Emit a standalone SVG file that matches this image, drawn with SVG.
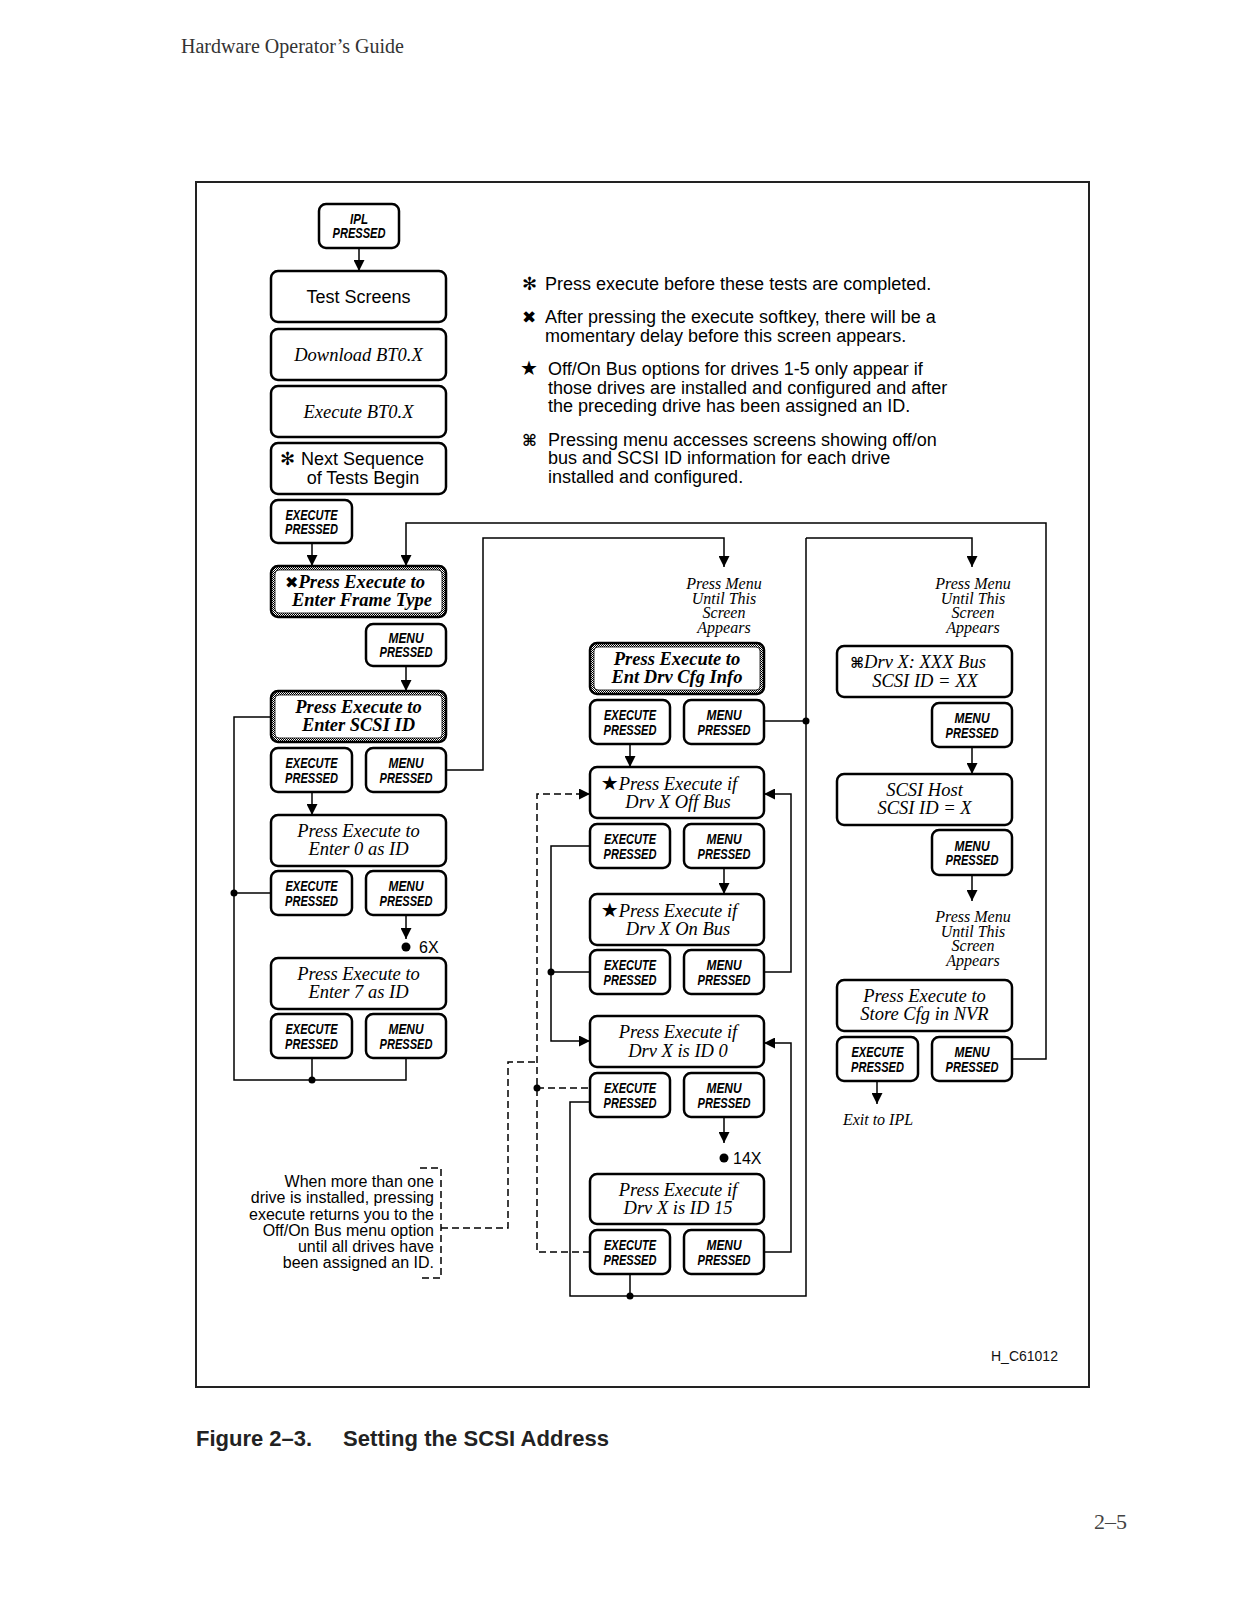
<svg xmlns="http://www.w3.org/2000/svg" width="1237" height="1600" viewBox="0 0 1237 1600">
<style>
.box{fill:#fff;stroke:#000;stroke-width:2.5}
.dbox{fill:url(#chk);stroke:#000;stroke-width:2.5}
.dinner{fill:#fff;stroke:#000;stroke-width:0.8}
.ln{fill:none;stroke:#000;stroke-width:1.5}
.dash{fill:none;stroke:#000;stroke-width:1.5;stroke-dasharray:7 4}
.dot{fill:#000}
.btn{font-family:"Liberation Sans",Arial,sans-serif;font-style:italic;font-weight:bold;font-size:15.5px;text-anchor:middle;fill:#000}
.sans{font-family:"Liberation Sans",Arial,sans-serif;font-size:18px;fill:#000}
.ser{font-family:"Liberation Serif","Times New Roman",serif;font-style:italic;font-size:18.5px;text-anchor:middle;fill:#000}
.serb{font-family:"Liberation Serif","Times New Roman",serif;font-style:italic;font-weight:bold;font-size:18.5px;text-anchor:middle;fill:#000}
.lab{font-family:"Liberation Serif","Times New Roman",serif;font-style:italic;font-size:16px;text-anchor:middle;fill:#000}
.note{font-family:"Liberation Sans",Arial,sans-serif;font-size:18px;fill:#000}
.note2{font-family:"Liberation Sans",Arial,sans-serif;font-size:16px;text-anchor:end;fill:#000}
.sym{font-family:"DejaVu Sans",sans-serif;font-style:normal;font-weight:bold}
</style>
<defs>
<pattern id="chk" width="2" height="2" patternUnits="userSpaceOnUse">
<rect width="2" height="2" fill="#fff"/><rect width="1" height="1" fill="#000"/><rect x="1" y="1" width="1" height="1" fill="#000"/>
</pattern>
<marker id="ar" viewBox="0 0 10 10" refX="10" refY="5" markerWidth="11" markerHeight="11" markerUnits="userSpaceOnUse" orient="auto">
<path d="M0,0 L10,5 L0,10 z" fill="#000"/>
</marker>
</defs>
<rect width="1237" height="1600" fill="#fff"/>

<text x="181" y="53" font-family="Liberation Serif, Times New Roman, serif" font-size="20" fill="#333">Hardware Operator’s Guide</text>
<rect x="196" y="182" width="893" height="1205" fill="none" stroke="#222" stroke-width="2"/>

<!-- Notes -->
<g id="notes">
<text class="note" x="522" y="289.5"><tspan class="sym" font-size="18">✻</tspan><tspan x="545">Press execute before these tests are completed.</tspan></text>
<text class="note" x="522" y="322.5"><tspan class="sym" font-size="17">✖</tspan><tspan x="545">After pressing the execute softkey, there will be a</tspan></text>
<text class="note" x="545" y="341.5">momentary delay before this screen appears.</text>
<text class="note" x="520" y="374.5"><tspan class="sym" font-size="20">★</tspan><tspan x="548">Off/On Bus options for drives 1-5 only appear if</tspan></text>
<text class="note" x="548" y="393.5">those drives are installed and configured and after</text>
<text class="note" x="548" y="411.5">the preceding drive has been assigned an ID.</text>
<text class="note" x="522" y="445.5"><tspan class="sym" font-size="16">⌘</tspan><tspan x="548">Pressing menu accesses screens showing off/on</tspan></text>
<text class="note" x="548" y="463.5">bus and SCSI ID information for each drive</text>
<text class="note" x="548" y="482.5">installed and configured.</text>
</g>

<!-- Connectors -->
<g id="connectors">
<path class="ln" d="M359 248 V271" marker-end="url(#ar)"/>
<path class="ln" d="M312 543 V566" marker-end="url(#ar)"/>
<path class="ln" d="M1012 1059 H1046 V523 H406 V566" marker-end="url(#ar)"/>
<path class="ln" d="M406 666 V691" marker-end="url(#ar)"/>
<path class="ln" d="M312 792 V815" marker-end="url(#ar)"/>
<path class="ln" d="M446 770 H483 V538 H724 V567" marker-end="url(#ar)"/>
<path class="ln" d="M406 915 V939" marker-end="url(#ar)"/>
<path class="ln" d="M271 717 H234 V1080 H406 V1058"/>
<path class="ln" d="M312 1058 V1080"/>
<path class="ln" d="M234 893 H271"/>
<path class="ln" d="M764 721 H806"/>
<path class="ln" d="M806 538 V1296 H570 V1102 H590"/>
<path class="ln" d="M806 538 H972 V567" marker-end="url(#ar)"/>
<path class="ln" d="M630 744 V767" marker-end="url(#ar)"/>
<path class="ln" d="M590 846 H551 V1041 H590" marker-end="url(#ar)"/>
<path class="ln" d="M551 972 H590"/>
<path class="ln" d="M724 868 V894" marker-end="url(#ar)"/>
<path class="ln" d="M764 972 H791 V794 H764" marker-end="url(#ar)"/>
<path class="ln" d="M724 1117 V1143" marker-end="url(#ar)"/>
<path class="ln" d="M764 1252 H791 V1043 H764" marker-end="url(#ar)"/>
<path class="ln" d="M630 1274 V1296"/>
<path class="dash" d="M590 1252 H537 V794 H590" marker-end="url(#ar)"/>
<path class="dash" d="M537 1088 H590"/>
<path class="dash" d="M441 1228 H508 V1062 H537"/>
<path class="dash" d="M420 1168 H441 V1278 H420"/>
<path class="ln" d="M972 747 V774" marker-end="url(#ar)"/>
<path class="ln" d="M972 875 V901" marker-end="url(#ar)"/>
<path class="ln" d="M877 1081 V1104" marker-end="url(#ar)"/>
<circle class="dot" cx="234" cy="893" r="3.5"/>
<circle class="dot" cx="312" cy="1080" r="3.5"/>
<circle class="dot" cx="406" cy="947" r="4.5"/>
<circle class="dot" cx="806" cy="721" r="3.5"/>
<circle class="dot" cx="551" cy="972" r="3.5"/>
<circle class="dot" cx="537" cy="1088" r="3.5"/>
<circle class="dot" cx="630" cy="1296" r="3.5"/>
<circle class="dot" cx="724" cy="1158" r="4.5"/>
<text x="419" y="953" font-family="Liberation Sans, Arial, sans-serif" font-size="16">6X</text>
<text x="733" y="1164" font-family="Liberation Sans, Arial, sans-serif" font-size="16">14X</text>
</g>

<!-- Left column -->
<g id="ipl"><rect class="box" x="319" y="204" width="80" height="44" rx="7"/>
<text class="btn" x="359" y="223.5" textLength="18" lengthAdjust="spacingAndGlyphs">IPL</text>
<text class="btn" x="359" y="238" textLength="53" lengthAdjust="spacingAndGlyphs">PRESSED</text></g>

<g id="test-screens"><rect class="box" x="271" y="271" width="175" height="51" rx="7"/>
<text class="sans" x="358.5" y="303" text-anchor="middle">Test Screens</text></g>

<g id="download"><rect class="box" x="271" y="329" width="175" height="51" rx="7"/>
<text class="ser" x="358.5" y="361" font-size="19.5">Download BT0.X</text></g>

<g id="execute-bt0"><rect class="box" x="271" y="386" width="175" height="51" rx="7"/>
<text class="ser" x="358.5" y="418" font-size="19.5">Execute BT0.X</text></g>

<g id="next-seq"><rect class="box" x="271" y="443" width="175" height="51" rx="7"/>
<text class="sans" x="280" y="464.5"><tspan class="sym" font-size="18">✻</tspan><tspan x="301">Next Sequence</tspan></text>
<text class="sans" x="363" y="483.5" text-anchor="middle">of Tests Begin</text></g>

<g id="exec1"><rect class="box" x="271" y="500" width="81" height="43" rx="7"/>
<text class="btn" x="311.5" y="519.5" textLength="52" lengthAdjust="spacingAndGlyphs">EXECUTE</text>
<text class="btn" x="311.5" y="534" textLength="53" lengthAdjust="spacingAndGlyphs">PRESSED</text></g>

<g id="frame-type"><rect class="dbox" x="271" y="566" width="175" height="51" rx="7"/>
<rect class="dinner" x="275" y="570" width="167" height="43" rx="4"/>
<text class="serb" x="355" y="587.5"><tspan class="sym" font-size="16">✖</tspan>Press Execute to</text>
<text class="serb" x="362" y="606">Enter Frame Type</text></g>

<g id="menu-frame"><rect class="box" x="366" y="624" width="80" height="42" rx="7"/>
<text class="btn" x="406" y="642.5" textLength="35" lengthAdjust="spacingAndGlyphs">MENU</text>
<text class="btn" x="406" y="657" textLength="53" lengthAdjust="spacingAndGlyphs">PRESSED</text></g>

<g id="scsi-id"><rect class="dbox" x="271" y="691" width="175" height="51" rx="7"/>
<rect class="dinner" x="275" y="695" width="167" height="43" rx="4"/>
<text class="serb" x="358.5" y="712.5">Press Execute to</text>
<text class="serb" x="358.5" y="731">Enter SCSI ID</text></g>

<g id="exec-scsi"><rect class="box" x="271" y="748" width="81" height="44" rx="7"/>
<text class="btn" x="311.5" y="768" textLength="52" lengthAdjust="spacingAndGlyphs">EXECUTE</text>
<text class="btn" x="311.5" y="782.5" textLength="53" lengthAdjust="spacingAndGlyphs">PRESSED</text></g>
<g id="menu-scsi"><rect class="box" x="366" y="748" width="80" height="44" rx="7"/>
<text class="btn" x="406" y="768" textLength="35" lengthAdjust="spacingAndGlyphs">MENU</text>
<text class="btn" x="406" y="782.5" textLength="53" lengthAdjust="spacingAndGlyphs">PRESSED</text></g>

<g id="enter0"><rect class="box" x="271" y="815" width="175" height="51" rx="7"/>
<text class="ser" x="358.5" y="836.5">Press Execute to</text>
<text class="ser" x="358.5" y="855">Enter 0 as ID</text></g>

<g id="exec-0"><rect class="box" x="271" y="871" width="81" height="44" rx="7"/>
<text class="btn" x="311.5" y="891" textLength="52" lengthAdjust="spacingAndGlyphs">EXECUTE</text>
<text class="btn" x="311.5" y="905.5" textLength="53" lengthAdjust="spacingAndGlyphs">PRESSED</text></g>
<g id="menu-0"><rect class="box" x="366" y="871" width="80" height="44" rx="7"/>
<text class="btn" x="406" y="891" textLength="35" lengthAdjust="spacingAndGlyphs">MENU</text>
<text class="btn" x="406" y="905.5" textLength="53" lengthAdjust="spacingAndGlyphs">PRESSED</text></g>

<g id="enter7"><rect class="box" x="271" y="958" width="175" height="51" rx="7"/>
<text class="ser" x="358.5" y="979.5">Press Execute to</text>
<text class="ser" x="358.5" y="998">Enter 7 as ID</text></g>

<g id="exec-7"><rect class="box" x="271" y="1014" width="81" height="44" rx="7"/>
<text class="btn" x="311.5" y="1034" textLength="52" lengthAdjust="spacingAndGlyphs">EXECUTE</text>
<text class="btn" x="311.5" y="1048.5" textLength="53" lengthAdjust="spacingAndGlyphs">PRESSED</text></g>
<g id="menu-7"><rect class="box" x="366" y="1014" width="80" height="44" rx="7"/>
<text class="btn" x="406" y="1034" textLength="35" lengthAdjust="spacingAndGlyphs">MENU</text>
<text class="btn" x="406" y="1048.5" textLength="53" lengthAdjust="spacingAndGlyphs">PRESSED</text></g>

<!-- Middle column -->
<g id="label-mid"><text class="lab" x="724" y="589">Press Menu</text>
<text class="lab" x="724" y="603.5">Until This</text>
<text class="lab" x="724" y="618">Screen</text>
<text class="lab" x="724" y="632.5">Appears</text></g>

<g id="cfg-info"><rect class="dbox" x="590" y="643" width="174" height="51" rx="7"/>
<rect class="dinner" x="594" y="647" width="166" height="43" rx="4"/>
<text class="serb" x="677" y="664.5">Press Execute to</text>
<text class="serb" x="677" y="683">Ent Drv Cfg Info</text></g>

<g id="exec-cfg"><rect class="box" x="590" y="700" width="80" height="44" rx="7"/>
<text class="btn" x="630" y="720" textLength="52" lengthAdjust="spacingAndGlyphs">EXECUTE</text>
<text class="btn" x="630" y="734.5" textLength="53" lengthAdjust="spacingAndGlyphs">PRESSED</text></g>
<g id="menu-cfg"><rect class="box" x="684" y="700" width="80" height="44" rx="7"/>
<text class="btn" x="724" y="720" textLength="35" lengthAdjust="spacingAndGlyphs">MENU</text>
<text class="btn" x="724" y="734.5" textLength="53" lengthAdjust="spacingAndGlyphs">PRESSED</text></g>

<g id="off-bus"><rect class="box" x="590" y="767" width="174" height="51" rx="7"/>
<text class="ser" x="669" y="790"><tspan class="sym" font-size="20">★</tspan>Press Execute if</text>
<text class="ser" x="678" y="808">Drv X Off Bus</text></g>

<g id="exec-off"><rect class="box" x="590" y="824" width="80" height="44" rx="7"/>
<text class="btn" x="630" y="844" textLength="52" lengthAdjust="spacingAndGlyphs">EXECUTE</text>
<text class="btn" x="630" y="858.5" textLength="53" lengthAdjust="spacingAndGlyphs">PRESSED</text></g>
<g id="menu-off"><rect class="box" x="684" y="824" width="80" height="44" rx="7"/>
<text class="btn" x="724" y="844" textLength="35" lengthAdjust="spacingAndGlyphs">MENU</text>
<text class="btn" x="724" y="858.5" textLength="53" lengthAdjust="spacingAndGlyphs">PRESSED</text></g>

<g id="on-bus"><rect class="box" x="590" y="894" width="174" height="51" rx="7"/>
<text class="ser" x="669" y="917"><tspan class="sym" font-size="20">★</tspan>Press Execute if</text>
<text class="ser" x="678" y="935">Drv X On Bus</text></g>

<g id="exec-on"><rect class="box" x="590" y="950" width="80" height="44" rx="7"/>
<text class="btn" x="630" y="970" textLength="52" lengthAdjust="spacingAndGlyphs">EXECUTE</text>
<text class="btn" x="630" y="984.5" textLength="53" lengthAdjust="spacingAndGlyphs">PRESSED</text></g>
<g id="menu-on"><rect class="box" x="684" y="950" width="80" height="44" rx="7"/>
<text class="btn" x="724" y="970" textLength="35" lengthAdjust="spacingAndGlyphs">MENU</text>
<text class="btn" x="724" y="984.5" textLength="53" lengthAdjust="spacingAndGlyphs">PRESSED</text></g>

<g id="id0"><rect class="box" x="590" y="1016" width="174" height="51" rx="7"/>
<text class="ser" x="678" y="1038">Press Execute if</text>
<text class="ser" x="678" y="1056.5">Drv X is ID 0</text></g>

<g id="exec-id0"><rect class="box" x="590" y="1073" width="80" height="44" rx="7"/>
<text class="btn" x="630" y="1093" textLength="52" lengthAdjust="spacingAndGlyphs">EXECUTE</text>
<text class="btn" x="630" y="1107.5" textLength="53" lengthAdjust="spacingAndGlyphs">PRESSED</text></g>
<g id="menu-id0"><rect class="box" x="684" y="1073" width="80" height="44" rx="7"/>
<text class="btn" x="724" y="1093" textLength="35" lengthAdjust="spacingAndGlyphs">MENU</text>
<text class="btn" x="724" y="1107.5" textLength="53" lengthAdjust="spacingAndGlyphs">PRESSED</text></g>

<g id="id15"><rect class="box" x="590" y="1174" width="174" height="50" rx="7"/>
<text class="ser" x="678" y="1195.5">Press Execute if</text>
<text class="ser" x="678" y="1214">Drv X is ID 15</text></g>

<g id="exec-id15"><rect class="box" x="590" y="1230" width="80" height="44" rx="7"/>
<text class="btn" x="630" y="1250" textLength="52" lengthAdjust="spacingAndGlyphs">EXECUTE</text>
<text class="btn" x="630" y="1264.5" textLength="53" lengthAdjust="spacingAndGlyphs">PRESSED</text></g>
<g id="menu-id15"><rect class="box" x="684" y="1230" width="80" height="44" rx="7"/>
<text class="btn" x="724" y="1250" textLength="35" lengthAdjust="spacingAndGlyphs">MENU</text>
<text class="btn" x="724" y="1264.5" textLength="53" lengthAdjust="spacingAndGlyphs">PRESSED</text></g>

<g id="note-multi">
<text class="note2" x="434" y="1187">When more than one</text>
<text class="note2" x="434" y="1203">drive is installed, pressing</text>
<text class="note2" x="434" y="1220">execute returns you to the</text>
<text class="note2" x="434" y="1236">Off/On Bus menu option</text>
<text class="note2" x="434" y="1252">until all drives have</text>
<text class="note2" x="434" y="1268">been assigned an ID.</text>
</g>

<!-- Right column -->
<g id="label-right1"><text class="lab" x="973" y="589">Press Menu</text>
<text class="lab" x="973" y="603.5">Until This</text>
<text class="lab" x="973" y="618">Screen</text>
<text class="lab" x="973" y="632.5">Appears</text></g>

<g id="drv-bus"><rect class="box" x="837" y="646" width="175" height="51" rx="7"/>
<text class="ser" x="918" y="668"><tspan class="sym" font-size="15">⌘</tspan>Drv X: XXX Bus</text>
<text class="ser" x="925" y="686.5">SCSI ID = XX</text></g>

<g id="menu-drv"><rect class="box" x="932" y="703" width="80" height="44" rx="7"/>
<text class="btn" x="972" y="723" textLength="35" lengthAdjust="spacingAndGlyphs">MENU</text>
<text class="btn" x="972" y="737.5" textLength="53" lengthAdjust="spacingAndGlyphs">PRESSED</text></g>

<g id="scsi-host"><rect class="box" x="837" y="774" width="175" height="51" rx="7"/>
<text class="ser" x="924.5" y="795.5">SCSI Host</text>
<text class="ser" x="924.5" y="814">SCSI ID = X</text></g>

<g id="menu-host"><rect class="box" x="932" y="830" width="80" height="45" rx="7"/>
<text class="btn" x="972" y="850.5" textLength="35" lengthAdjust="spacingAndGlyphs">MENU</text>
<text class="btn" x="972" y="865" textLength="53" lengthAdjust="spacingAndGlyphs">PRESSED</text></g>

<g id="label-right2"><text class="lab" x="973" y="922">Press Menu</text>
<text class="lab" x="973" y="936.5">Until This</text>
<text class="lab" x="973" y="951">Screen</text>
<text class="lab" x="973" y="965.5">Appears</text></g>

<g id="store-cfg"><rect class="box" x="837" y="980" width="175" height="51" rx="7"/>
<text class="ser" x="924.5" y="1001.5">Press Execute to</text>
<text class="ser" x="924.5" y="1020">Store Cfg in NVR</text></g>

<g id="exec-store"><rect class="box" x="837" y="1037" width="81" height="44" rx="7"/>
<text class="btn" x="877.5" y="1057" textLength="52" lengthAdjust="spacingAndGlyphs">EXECUTE</text>
<text class="btn" x="877.5" y="1071.5" textLength="53" lengthAdjust="spacingAndGlyphs">PRESSED</text></g>
<g id="menu-store"><rect class="box" x="932" y="1037" width="80" height="44" rx="7"/>
<text class="btn" x="972" y="1057" textLength="35" lengthAdjust="spacingAndGlyphs">MENU</text>
<text class="btn" x="972" y="1071.5" textLength="53" lengthAdjust="spacingAndGlyphs">PRESSED</text></g>

<g id="exit-ipl"><text class="lab" x="878" y="1125">Exit to IPL</text></g>

<text x="991" y="1361" font-family="Liberation Sans, Arial, sans-serif" font-size="14" fill="#111">H_C61012</text>
<text x="196" y="1446" font-family="Liberation Sans, Arial, sans-serif" font-size="22" font-weight="bold" fill="#222">Figure 2–3.</text>
<text x="343" y="1446" font-family="Liberation Sans, Arial, sans-serif" font-size="22" font-weight="bold" fill="#222" textLength="266">Setting the SCSI Address</text>
<text x="1094" y="1529" font-family="Liberation Serif, Times New Roman, serif" font-size="22" fill="#444">2–5</text>
</svg>
